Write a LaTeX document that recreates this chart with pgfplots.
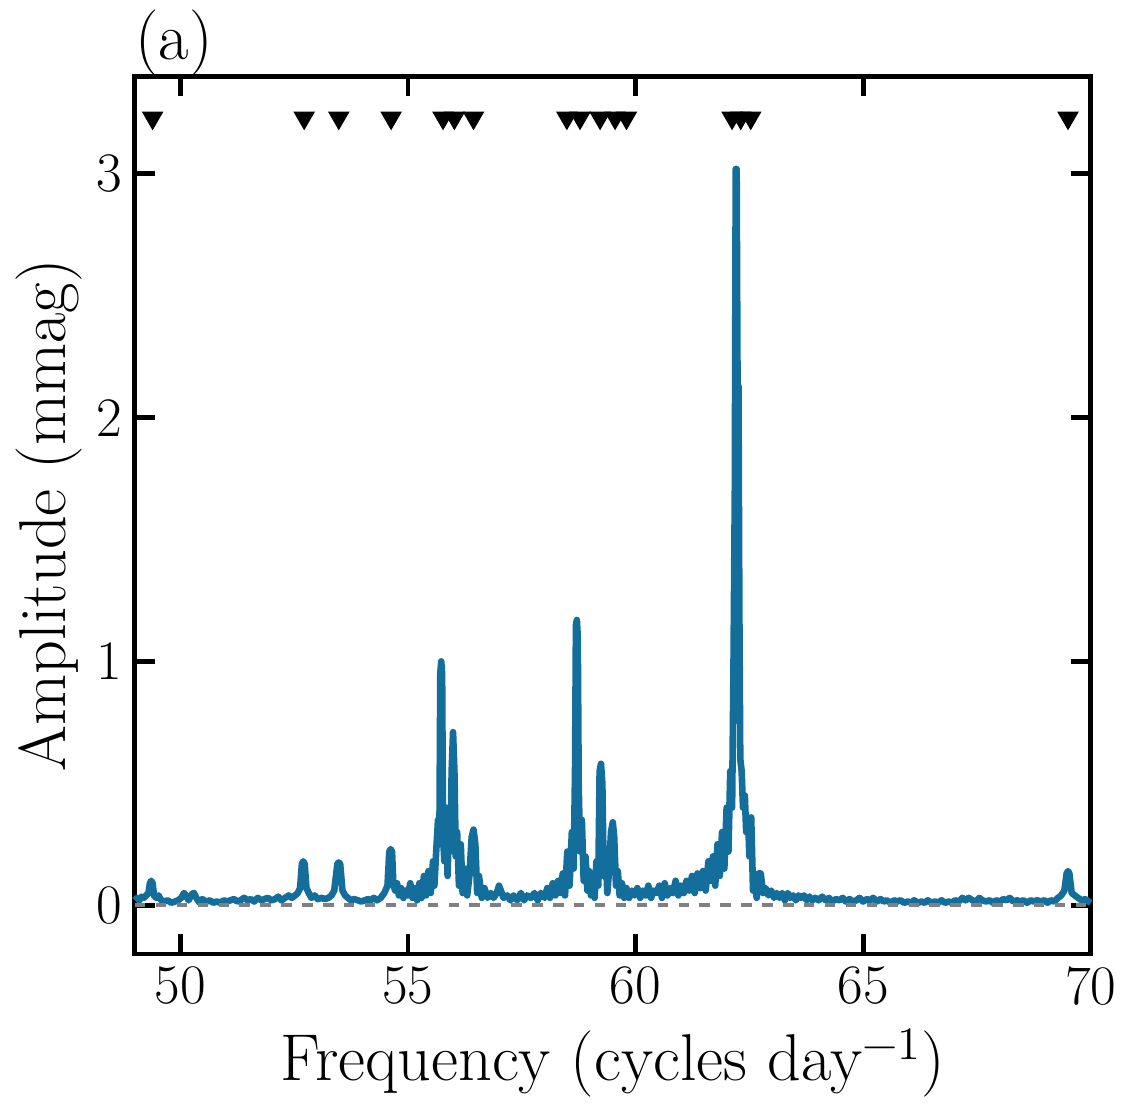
\documentclass[border=0pt]{standalone}
\usepackage{fontspec}
\usepackage{pgfplots}
\pgfplotsset{compat=1.18}
\definecolor{specblue}{RGB}{20,110,155}

\begin{document}
\begin{tikzpicture}
\begin{axis}[
    name=ax,
    scale only axis,
    width=9.64cm, height=8.85cm,
    xmin=49, xmax=70, ymin=-0.2, ymax=3.4,
    xtick={50,55,60,65,70},
    ytick={0,1,2,3},
    minor tick num=0,
    tick align=inside,
    major tick length=0.2cm,
    tick style={line width=1.4pt, black},
    axis line style={line width=1.4pt},
    /pgf/number format/assume math mode=true,
    ticklabel style={font=\fontsize{16}{19}\selectfont},
    xlabel={Frequency (cycles day\textsuperscript{−1})},
    ylabel={Amplitude (mmag)},
    label style={font=\fontsize{19}{23}\selectfont},
    xlabel style={at={(axis description cs:0.5,0)}, anchor=base, yshift=-1.28cm},
    ylabel style={at={(axis description cs:-0.0726,0.5)}, anchor=base},
    clip=false,
]
% amplitude spectrum
\addplot[specblue, line width=1.9pt, line join=round] coordinates {
(49.00,0.02) (49.05,0.03) (49.10,0.02) (49.15,0.035) (49.20,0.03) (49.25,0.04) (49.30,0.05) (49.33,0.09)
(49.36,0.10) (49.39,0.09) (49.42,0.04) (49.47,0.03) (49.52,0.04) (49.58,0.02) (49.65,0.015) (49.72,0.02)
(49.80,0.01) (49.88,0.015) (49.95,0.02) (50.02,0.03) (50.08,0.05) (50.12,0.04) (50.18,0.02) (50.25,0.045)
(50.30,0.05) (50.35,0.03) (50.42,0.01) (50.48,0.025) (50.52,0.02) (50.58,0.015) (50.65,0.02) (50.72,0.01)
(50.80,0.015) (50.88,0.01) (50.95,0.02) (51.02,0.015) (51.10,0.02) (51.18,0.025) (51.25,0.015) (51.32,0.02)
(51.40,0.03) (51.48,0.02) (51.55,0.025) (51.62,0.015) (51.70,0.03) (51.78,0.02) (51.85,0.025) (51.92,0.03)
(52.00,0.02) (52.08,0.025) (52.15,0.035) (52.22,0.02) (52.30,0.03) (52.38,0.04) (52.45,0.03) (52.52,0.04)
(52.58,0.05) (52.63,0.07) (52.67,0.17) (52.70,0.18) (52.73,0.17) (52.77,0.07) (52.82,0.05) (52.88,0.03)
(52.95,0.04) (53.02,0.025) (53.10,0.03) (53.18,0.025) (53.25,0.03) (53.32,0.04) (53.38,0.06) (53.45,0.17)
(53.48,0.175) (53.51,0.17) (53.56,0.06) (53.62,0.04) (53.68,0.03) (53.75,0.02) (53.82,0.025) (53.90,0.02)
(53.97,0.015) (54.05,0.02) (54.12,0.025) (54.18,0.02) (54.25,0.03) (54.32,0.02) (54.40,0.03) (54.48,0.05)
(54.55,0.08) (54.59,0.22) (54.62,0.23) (54.65,0.22) (54.68,0.08) (54.72,0.06) (54.76,0.09) (54.80,0.04)
(54.85,0.07) (54.90,0.03) (54.95,0.06) (55.00,0.04) (55.05,0.09) (55.10,0.03) (55.15,0.07) (55.20,0.02)
(55.25,0.09) (55.30,0.03) (55.35,0.12) (55.40,0.04) (55.45,0.14) (55.50,0.05) (55.55,0.18) (55.58,0.08)
(55.62,0.22) (55.66,0.35) (55.69,0.25) (55.71,0.95) (55.73,1.00) (55.75,0.95) (55.77,0.28) (55.80,0.18)
(55.84,0.40) (55.87,0.12) (55.90,0.34) (55.93,0.22) (55.96,0.55) (55.99,0.71) (56.02,0.55) (56.05,0.20)
(56.08,0.30) (56.12,0.08) (56.16,0.25) (56.20,0.05) (56.25,0.15) (56.30,0.04) (56.35,0.12) (56.40,0.28)
(56.44,0.31) (56.48,0.25) (56.52,0.05) (56.56,0.12) (56.62,0.03) (56.68,0.07) (56.75,0.03) (56.82,0.05)
(56.88,0.03) (56.95,0.05) (57.00,0.08) (57.04,0.06) (57.10,0.03) (57.18,0.04) (57.25,0.02) (57.32,0.04)
(57.40,0.02) (57.48,0.05) (57.55,0.02) (57.62,0.04) (57.70,0.03) (57.78,0.05) (57.85,0.02) (57.92,0.05)
(58.00,0.03) (58.06,0.07) (58.12,0.03) (58.18,0.09) (58.24,0.04) (58.30,0.10) (58.35,0.05) (58.40,0.13)
(58.45,0.04) (58.50,0.22) (58.55,0.08) (58.60,0.30) (58.64,0.15) (58.67,0.55) (58.69,1.15) (58.71,1.17)
(58.73,1.10) (58.75,0.50) (58.78,0.22) (58.82,0.35) (58.86,0.10) (58.90,0.20) (58.94,0.06) (58.98,0.14)
(59.02,0.04) (59.06,0.10) (59.10,0.03) (59.14,0.18) (59.18,0.08) (59.21,0.55) (59.24,0.58) (59.27,0.50)
(59.30,0.12) (59.34,0.22) (59.38,0.05) (59.42,0.15) (59.46,0.30) (59.50,0.34) (59.53,0.28) (59.57,0.08)
(59.61,0.14) (59.65,0.04) (59.70,0.09) (59.75,0.03) (59.80,0.07) (59.86,0.03) (59.92,0.06) (59.98,0.04)
(60.04,0.07) (60.10,0.03) (60.16,0.06) (60.22,0.04) (60.28,0.08) (60.34,0.03) (60.40,0.06) (60.46,0.05)
(60.52,0.08) (60.58,0.03) (60.64,0.09) (60.70,0.04) (60.76,0.07) (60.82,0.05) (60.88,0.10) (60.94,0.04)
(61.00,0.08) (61.06,0.05) (61.12,0.10) (61.18,0.06) (61.24,0.12) (61.30,0.05) (61.36,0.13) (61.42,0.07)
(61.48,0.14) (61.54,0.06) (61.60,0.18) (61.65,0.10) (61.70,0.20) (61.75,0.08) (61.80,0.25) (61.85,0.12)
(61.90,0.30) (61.95,0.15) (62.00,0.40) (62.04,0.22) (62.08,0.55) (62.12,0.40) (62.15,0.95) (62.18,1.70)
(62.20,3.02) (62.22,3.02) (62.24,2.13) (62.26,2.13) (62.28,1.20) (62.30,0.60) (62.33,0.55) (62.36,0.40)
(62.40,0.45) (62.43,0.30) (62.47,0.36) (62.50,0.20) (62.54,0.36) (62.58,0.06) (62.62,0.10) (62.66,0.03)
(62.70,0.13) (62.75,0.13) (62.80,0.05) (62.86,0.07) (62.92,0.04) (62.98,0.06) (63.04,0.03) (63.10,0.05)
(63.16,0.03) (63.22,0.05) (63.28,0.02) (63.34,0.05) (63.40,0.03) (63.46,0.04) (63.52,0.02) (63.58,0.04)
(63.64,0.03) (63.70,0.04) (63.76,0.02) (63.82,0.035) (63.88,0.02) (63.95,0.03) (64.02,0.02) (64.10,0.035)
(64.18,0.02) (64.25,0.03) (64.32,0.015) (64.40,0.025) (64.48,0.02) (64.55,0.03) (64.62,0.015) (64.70,0.025)
(64.78,0.015) (64.85,0.02) (64.92,0.03) (65.00,0.015) (65.08,0.025) (65.15,0.02) (65.22,0.03) (65.30,0.015)
(65.38,0.025) (65.45,0.015) (65.52,0.02) (65.60,0.01) (65.68,0.02) (65.75,0.015) (65.82,0.02) (65.90,0.01)
(65.98,0.015) (66.05,0.01) (66.12,0.02) (66.20,0.01) (66.28,0.015) (66.35,0.01) (66.42,0.02) (66.50,0.01)
(66.58,0.015) (66.65,0.01) (66.72,0.02) (66.80,0.01) (66.88,0.015) (66.95,0.01) (67.02,0.02) (67.10,0.015)
(67.18,0.03) (67.25,0.02) (67.32,0.03) (67.40,0.02) (67.48,0.015) (67.55,0.03) (67.62,0.02) (67.70,0.015)
(67.78,0.02) (67.85,0.01) (67.92,0.02) (68.00,0.015) (68.08,0.025) (68.15,0.02) (68.22,0.03) (68.30,0.015)
(68.38,0.02) (68.45,0.015) (68.52,0.02) (68.60,0.01) (68.68,0.02) (68.75,0.015) (68.82,0.02) (68.90,0.015)
(68.98,0.02) (69.05,0.01) (69.12,0.02) (69.20,0.015) (69.28,0.03) (69.35,0.04) (69.42,0.06) (69.47,0.13)
(69.50,0.14) (69.53,0.13) (69.58,0.05) (69.65,0.04) (69.72,0.03) (69.80,0.02) (69.88,0.025) (69.95,0.015)
(70.00,0.01)
};
% zero level
\addplot[gray, dashed, line width=1pt] coordinates {(49,0) (70,0)};
% identified frequencies
\addplot[only marks, mark=triangle*, mark size=3.2pt, mark options={rotate=180, fill=black, draw=black}] coordinates {
(49.39,3.23) (52.72,3.23) (53.48,3.23) (54.63,3.23) (55.77,3.23) (56.02,3.23) (56.44,3.23)
(58.49,3.23) (58.78,3.23) (59.22,3.23) (59.55,3.23) (59.80,3.23)
(62.12,3.23) (62.31,3.23) (62.53,3.23) (69.50,3.23)
};
\node[anchor=south west, inner sep=0pt, font=\fontsize{19}{23}\selectfont] at (rel axis cs:0,1) {(a)};
\end{axis}
\path (ax.south west) ++(-1.36,-1.47) rectangle ++(11.28,11.09);
\end{tikzpicture}
\end{document}
